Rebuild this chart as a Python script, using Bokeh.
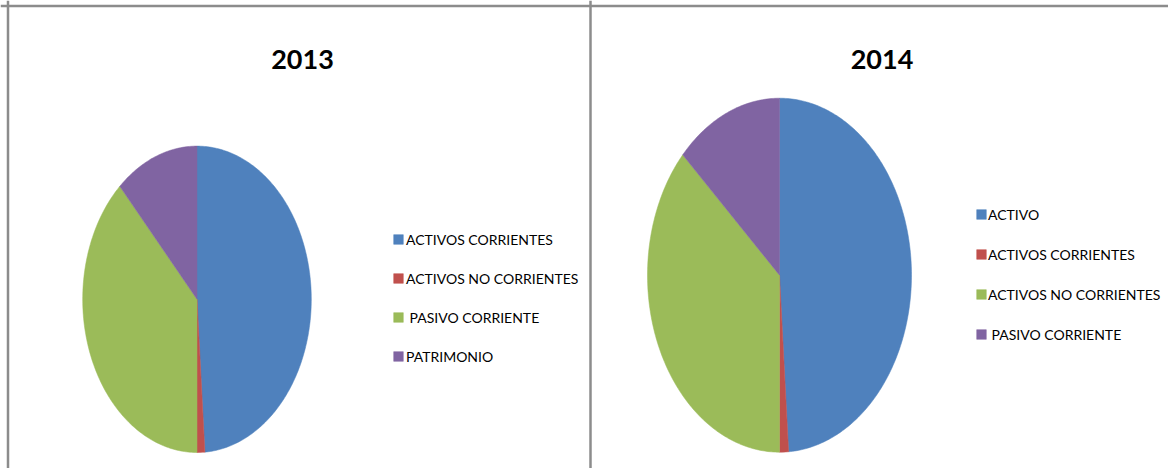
import numpy as np
from bokeh.plotting import figure
from bokeh.models import Range1d, Legend, LegendItem, Span
from bokeh.core.properties import value
from bokeh.embed import file_html
from bokeh.resources import INLINE

# ---- data ----
titles = ["2013", "2014"]
labels_2013 = ["ACTIVOS CORRIENTES", "ACTIVOS NO CORRIENTES", " PASIVO CORRIENTE", "PATRIMONIO"]
values_2013 = [48.9, 1.1, 38.2, 11.8]
labels_2014 = ["ACTIVO", "ACTIVOS CORRIENTES", "ACTIVOS NO CORRIENTES", " PASIVO CORRIENTE"]
values_2014 = [48.9, 1.1, 36.9, 13.1]
colors = ["#4F81BD", "#C0504D", "#9BBB59", "#8064A2"]

FONT = "Lato"

W, H = 1168, 468
p = figure(width=W, height=H, output_backend="svg", toolbar_location=None,
           x_range=Range1d(0, W), y_range=Range1d(H, 0),
           min_border=0, outline_line_color=None, background_fill_color="white",
           border_fill_color="white")
p.axis.visible = False
p.grid.visible = False

# panel borders
p.add_layout(Span(location=5.5, dimension="width", line_color="#8C8C8C", line_width=2.5))
p.add_layout(Span(location=7.5, dimension="height", line_color="#8C8C8C", line_width=2.5))
p.add_layout(Span(location=590, dimension="height", line_color="#8C8C8C", line_width=2.5))


def ellipse_pie(vals, cx, cy, rx, ry):
    vals = np.asarray(vals, dtype=float)
    fr = vals / vals.sum()
    ends = np.cumsum(fr) * 2 * np.pi
    starts = ends - fr * 2 * np.pi
    xs, ys = [], []
    for a0, a1 in zip(starts, ends):
        n = max(3, int((a1 - a0) / (2 * np.pi) * 400))
        t = np.linspace(a0, a1, n)
        xs.append([cx] + list(cx + rx * np.sin(t)))
        ys.append([cy] + list(cy - ry * np.cos(t)))
    return xs, ys


panels = [
    dict(title=titles[0], labels=labels_2013, vals=values_2013, cx=196.5, cy=298.8, rx=114.3, ry=153.2,
         tx=302, leg=(392, 102), spacing=19, standoff=2),
    dict(title=titles[1], labels=labels_2014, vals=values_2014, cx=779, cy=274.7, rx=132, ry=177,
         tx=881.5, leg=(975, 124), spacing=20, standoff=1),
]

for pan in panels:
    xs, ys = ellipse_pie(pan["vals"], pan["cx"], pan["cy"], pan["rx"], pan["ry"])
    items = []
    for i, lab in enumerate(pan["labels"]):
        r = p.patch(xs[i], ys[i], fill_color=colors[i], line_color=colors[i], line_width=0.5)
        items.append(LegendItem(label=lab, renderers=[r]))
    p.text(x=[pan["tx"]], y=[58.5], text=[pan["title"]], text_font=value(FONT),
           text_font_style="bold", text_font_size="27px", text_align="center",
           text_baseline="alphabetic", text_color="black")
    leg = Legend(items=items, location=pan["leg"], orientation="vertical",
                 label_text_font=FONT, label_text_font_size="14px", label_text_color="black",
                 glyph_width=12, glyph_height=12, label_standoff=pan["standoff"], label_height=20,
                 spacing=pan["spacing"], padding=0, margin=0,
                 border_line_color=None, background_fill_alpha=0)
    p.add_layout(leg, "center")

open("out.html", "w").write(file_html(p, INLINE))
